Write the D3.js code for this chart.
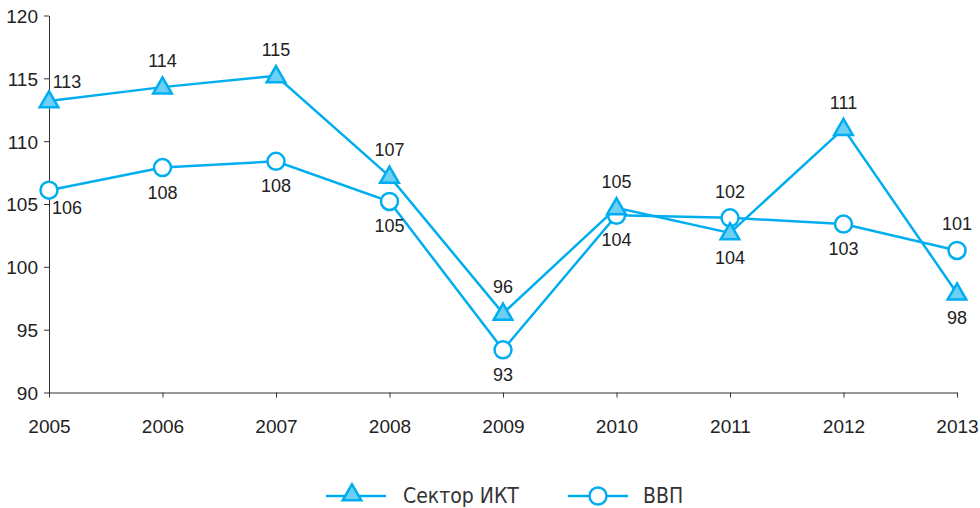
<!DOCTYPE html>
<html>
<head>
<meta charset="utf-8">
<script src="https://cdn.jsdelivr.net/npm/d3@7"></script>
<style>
body { margin: 0; background: #fff; }
svg text { font-family: "Liberation Sans Narrow", "Arial Narrow", "Liberation Sans", sans-serif; fill: #222; }
.axis path, .axis line { stroke: #333; stroke-width: 1; }
.legend text { font-family: "Liberation Sans Narrow", "DejaVu Sans Condensed", sans-serif; font-size: 21px; fill: #333; }
</style>
</head>
<body>
<div id="chart"></div>
<script>
var width = 980;
var height = 508;

var years = [2005, 2006, 2007, 2008, 2009, 2010, 2011, 2012, 2013];
var ictValues = [113.2, 114.3, 115.2, 107.2, 96.3, 104.7, 102.7, 111.0, 97.9];
var gdpValues = [106.1, 107.9, 108.4, 105.2, 93.4, 104.1, 103.9, 103.4, 101.3];
// labels as printed on the chart (2011 labels are swapped in the original)
var ictLabels = ["113", "114", "115", "107", "96", "105", "104", "111", "98"];
var gdpLabels = ["106", "108", "108", "105", "93", "104", "102", "103", "101"];
var ictLabelSide = [-1, -1, -1, -1, -1, -1, 1, -1, 1];
var gdpLabelSide = [1, 1, 1, 1, 1, 1, -1, 1, -1];
var yTicks = [90, 95, 100, 105, 110, 115, 120];
var seriesNames = ["Сектор ИКТ", "ВВП"];

var color = "#00aeef";
var triFill = "#6dcff6";
var fontFam = '"Liberation Sans Narrow", "Arial Narrow", "Liberation Sans", sans-serif';

var margin = {top: 15.5, right: 23, bottom: 115.5, left: 49};

var svg = d3.select("#chart").append("svg")
    .attr("width", width)
    .attr("height", height);

var x = d3.scalePoint()
    .domain(years)
    .range([margin.left, width - margin.right]);

var y = d3.scaleLinear()
    .domain([90, 120])
    .range([height - margin.bottom, margin.top]);

//Axes
var xAxis = svg.append("g")
    .attr("class", "axis")
    .attr("transform", "translate(0," + y(90) + ")")
    .call(d3.axisBottom(x).tickSize(5).tickPadding(22).tickSizeOuter(0));

var yAxis = svg.append("g")
    .attr("class", "axis")
    .attr("transform", "translate(" + margin.left + ",0)")
    .call(d3.axisLeft(y).tickValues(yTicks).tickSize(5).tickPadding(6).tickSizeOuter(0));

svg.selectAll(".axis text")
    .attr("font-size", 19)
    .attr("font-family", fontFam)
    .attr("fill", "#222");
yAxis.selectAll("text").attr("dy", "0.36em");

var line = d3.line()
    .x(function(d, i) { return x(years[i]); })
    .y(function(d) { return y(d); });

var triangle = d3.symbol().type(d3.symbolTriangle).size(150);

function drawSeries(values, labels, sides, marker) {
    svg.append("path")
        .datum(values)
        .attr("d", line)
        .attr("fill", "none")
        .attr("stroke", color)
        .attr("stroke-width", 2.5);

    var g = svg.append("g");
    if (marker == "triangle") {
        g.selectAll("path")
            .data(values)
            .enter().append("path")
            .attr("d", triangle)
            .attr("transform", function(d, i) { return "translate(" + x(years[i]) + "," + (y(d) + 1) + ")"; })
            .attr("fill", triFill)
            .attr("stroke", color)
            .attr("stroke-width", 2.5);
    } else {
        g.selectAll("circle")
            .data(values)
            .enter().append("circle")
            .attr("cx", function(d, i) { return x(years[i]); })
            .attr("cy", function(d) { return y(d); })
            .attr("r", 8.5)
            .attr("fill", "#fff")
            .attr("stroke", color)
            .attr("stroke-width", 2.5);
    }

    svg.append("g").selectAll("text")
        .data(values)
        .enter().append("text")
        .attr("x", function(d, i) { return x(years[i]) + (i == 0 ? 18 : 0); })
        .attr("y", function(d, i) {
            var off = sides[i] < 0 ? (i == 0 ? -13 : -20) : (i == 0 ? 24 : 31);
            return y(d) + off;
        })
        .attr("text-anchor", "middle")
        .attr("font-size", 18)
        .text(function(d, i) { return labels[i]; });
}

drawSeries(gdpValues, gdpLabels, gdpLabelSide, "circle");
drawSeries(ictValues, ictLabels, ictLabelSide, "triangle");

//Legend
var legend = svg.append("g").attr("class", "legend");
var legendX = [326, 568];
seriesNames.forEach(function(name, i) {
    var lg = legend.append("g").attr("transform", "translate(" + legendX[i] + ",496)");
    lg.append("line")
        .attr("x1", 0).attr("x2", 60)
        .attr("stroke", color)
        .attr("stroke-width", 2.5);
    if (i == 0) {
        lg.append("path")
            .attr("d", triangle)
            .attr("transform", "translate(26,-1)")
            .attr("fill", triFill)
            .attr("stroke", color)
            .attr("stroke-width", 2.5);
    } else {
        lg.append("circle")
            .attr("cx", 30).attr("r", 8.5)
            .attr("fill", "#fff")
            .attr("stroke", color)
            .attr("stroke-width", 2.5);
    }
    lg.append("text")
        .attr("x", i == 0 ? 77 : 75)
        .attr("y", 6.5)
        .text(name);
});
</script>
</body>
</html>
